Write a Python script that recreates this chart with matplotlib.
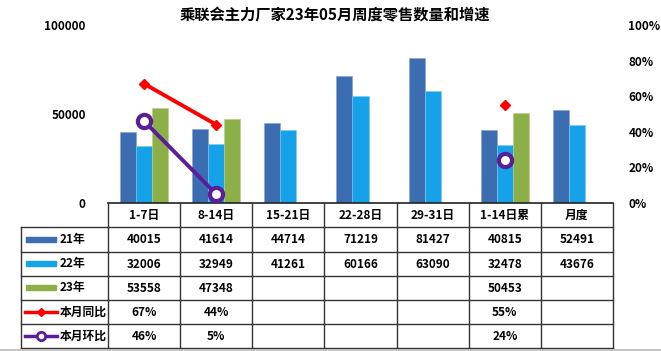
import matplotlib
matplotlib.use("Agg")
import matplotlib.pyplot as plt
import numpy as np

plt.rcParams['font.family'] = ['Noto Sans CJK SC', 'DejaVu Sans']

# data
cats = ['1-7日', '8-14日', '15-21日', '22-28日', '29-31日', '1-14日累', '月度']
v21 = [40015, 41614, 44714, 71219, 81427, 40815, 52491]
v22 = [32006, 32949, 41261, 60166, 63090, 32478, 43676]
v23 = [53558, 47348, None, None, None, 50453, None]
yoy = [0.67, 0.44, None, None, None, 0.55, None]
mom = [0.46, 0.05, None, None, None, 0.24, None]
series_names = ['21年', '22年', '23年', '本月同比', '本月环比']

c21, c22, c23 = '#3D6DB1', '#15A2E9', '#8CB047'
cred, cpur = '#FF0000', '#5A1E9A'

W, H = 661, 351
fig = plt.figure(figsize=(W / 100, H / 100), dpi=100)

# pixel frame of the plot area
px_l, px_r, px_top, px_base = 108, 613, 25, 203
ax = fig.add_axes([px_l / W, 1 - px_base / H, (px_r - px_l) / W, (px_base - px_top) / H])
ax2 = ax.twinx()

def nan(v):
    return np.array([np.nan if x is None else x for x in v], dtype=float)

x = np.arange(len(cats))
bw = 0.222
ax.bar(x - bw, nan(v21), bw, color=c21, edgecolor='#7FA0D0', linewidth=0.4)
ax.bar(x, nan(v22), bw, color=c22, edgecolor='#7FC8F0', linewidth=0.4)
ax.bar(x + bw, nan(v23), bw, color=c23, edgecolor='#B5CF88', linewidth=0.4)
ax.set_xlim(-0.5, len(cats) - 0.5)
ax.set_ylim(0, 100000)
ax.set_yticks([0, 50000, 100000])
ax.set_yticklabels(['0', '50000', '100000'], fontweight='bold', fontsize=8.5)
ax.set_xticks([])
ax.tick_params(axis='y', length=0, pad=16)
for s in ['top', 'left', 'right']:
    ax.spines[s].set_visible(False)
ax.spines['bottom'].set_color('#222222')
ax.spines['bottom'].set_linewidth(1.2)

ax2.plot(x, nan(yoy), color=cred, lw=2.8, marker='D', ms=5.5, mfc=cred, mec=cred)
ax2.plot(x, nan(mom), color=cpur, lw=2.8, marker='o', ms=9.5, mfc='white', mec=cpur, mew=3)
ax2.set_ylim(0, 1)
ax2.set_yticks(np.arange(0, 1.01, 0.2))
ax2.set_yticklabels([f'{int(round(t * 100))}%' for t in np.arange(0, 1.01, 0.2)],
                    fontweight='bold', fontsize=8.5)
ax2.tick_params(axis='y', length=0, pad=11)
for s in ['top', 'left', 'right', 'bottom']:
    ax2.spines[s].set_visible(False)

fig.text(335 / W, 1 - 15 / H, '乘联会主力厂家23年05月周度零售数量和增速',
         ha='center', va='center', fontsize=11, fontweight='bold')

# data table drawn in pixel coordinates
tab = fig.add_axes([0, 0, 1, 1], facecolor='none')
tab.set_xlim(0, W)
tab.set_ylim(H, 0)
tab.axis('off')

col_edges = [px_l + i * (px_r - px_l) / len(cats) for i in range(len(cats) + 1)]
row_edges = [203, 227, 252, 276, 300, 324, 348]
lab_l = 21
lc = '#333333'
# horizontal lines
for y in row_edges[1:]:
    tab.plot([lab_l, px_r], [y, y], color=lc, lw=1)
# vertical lines
for xe in col_edges:
    tab.plot([xe, xe], [row_edges[0], row_edges[-1]], color=lc, lw=1)
tab.plot([lab_l, lab_l], [row_edges[1], row_edges[-1]], color=lc, lw=1)
# light bottom line
tab.plot([0, W], [349.5, 349.5], color='#BBBBBB', lw=1.2)

mid = lambda i: (col_edges[i] + col_edges[i + 1]) / 2
rmid = lambda r: (row_edges[r] + row_edges[r + 1]) / 2

for i, c in enumerate(cats):
    tab.text(mid(i), rmid(0), c, ha='center', va='center', fontsize=8.5, fontweight='bold')

rows = [v21, v22, v23,
        [None if v is None else f'{int(round(v * 100))}%' for v in yoy],
        [None if v is None else f'{int(round(v * 100))}%' for v in mom]]
for r, vals in enumerate(rows):
    for i, v in enumerate(vals):
        if v is not None:
            tab.text(mid(i), rmid(r + 1), str(v), ha='center', va='center',
                     fontsize=8.5, fontweight='bold')

# legend keys in the label column
for r, (name, col) in enumerate(zip(series_names[:3], [c21, c22, c23])):
    y = rmid(r + 1)
    tab.add_patch(plt.Rectangle((26, y - 3), 30, 5, color=col))
    tab.text(60, y, name, ha='left', va='center', fontsize=8.5, fontweight='bold')
y = rmid(4)
tab.plot([25, 57], [y, y], color=cred, lw=2.5)
tab.plot([41], [y], color=cred, marker='D', ms=4.5)
tab.text(60, y, series_names[3], ha='left', va='center', fontsize=8.5, fontweight='bold')
y = rmid(5)
tab.plot([25, 57], [y, y], color=cpur, lw=2.5)
tab.plot([41], [y], marker='o', ms=6, mfc='white', mec=cpur, mew=2)
tab.text(60, y, series_names[4], ha='left', va='center', fontsize=8.5, fontweight='bold')

fig.savefig('out.png', dpi=100)
